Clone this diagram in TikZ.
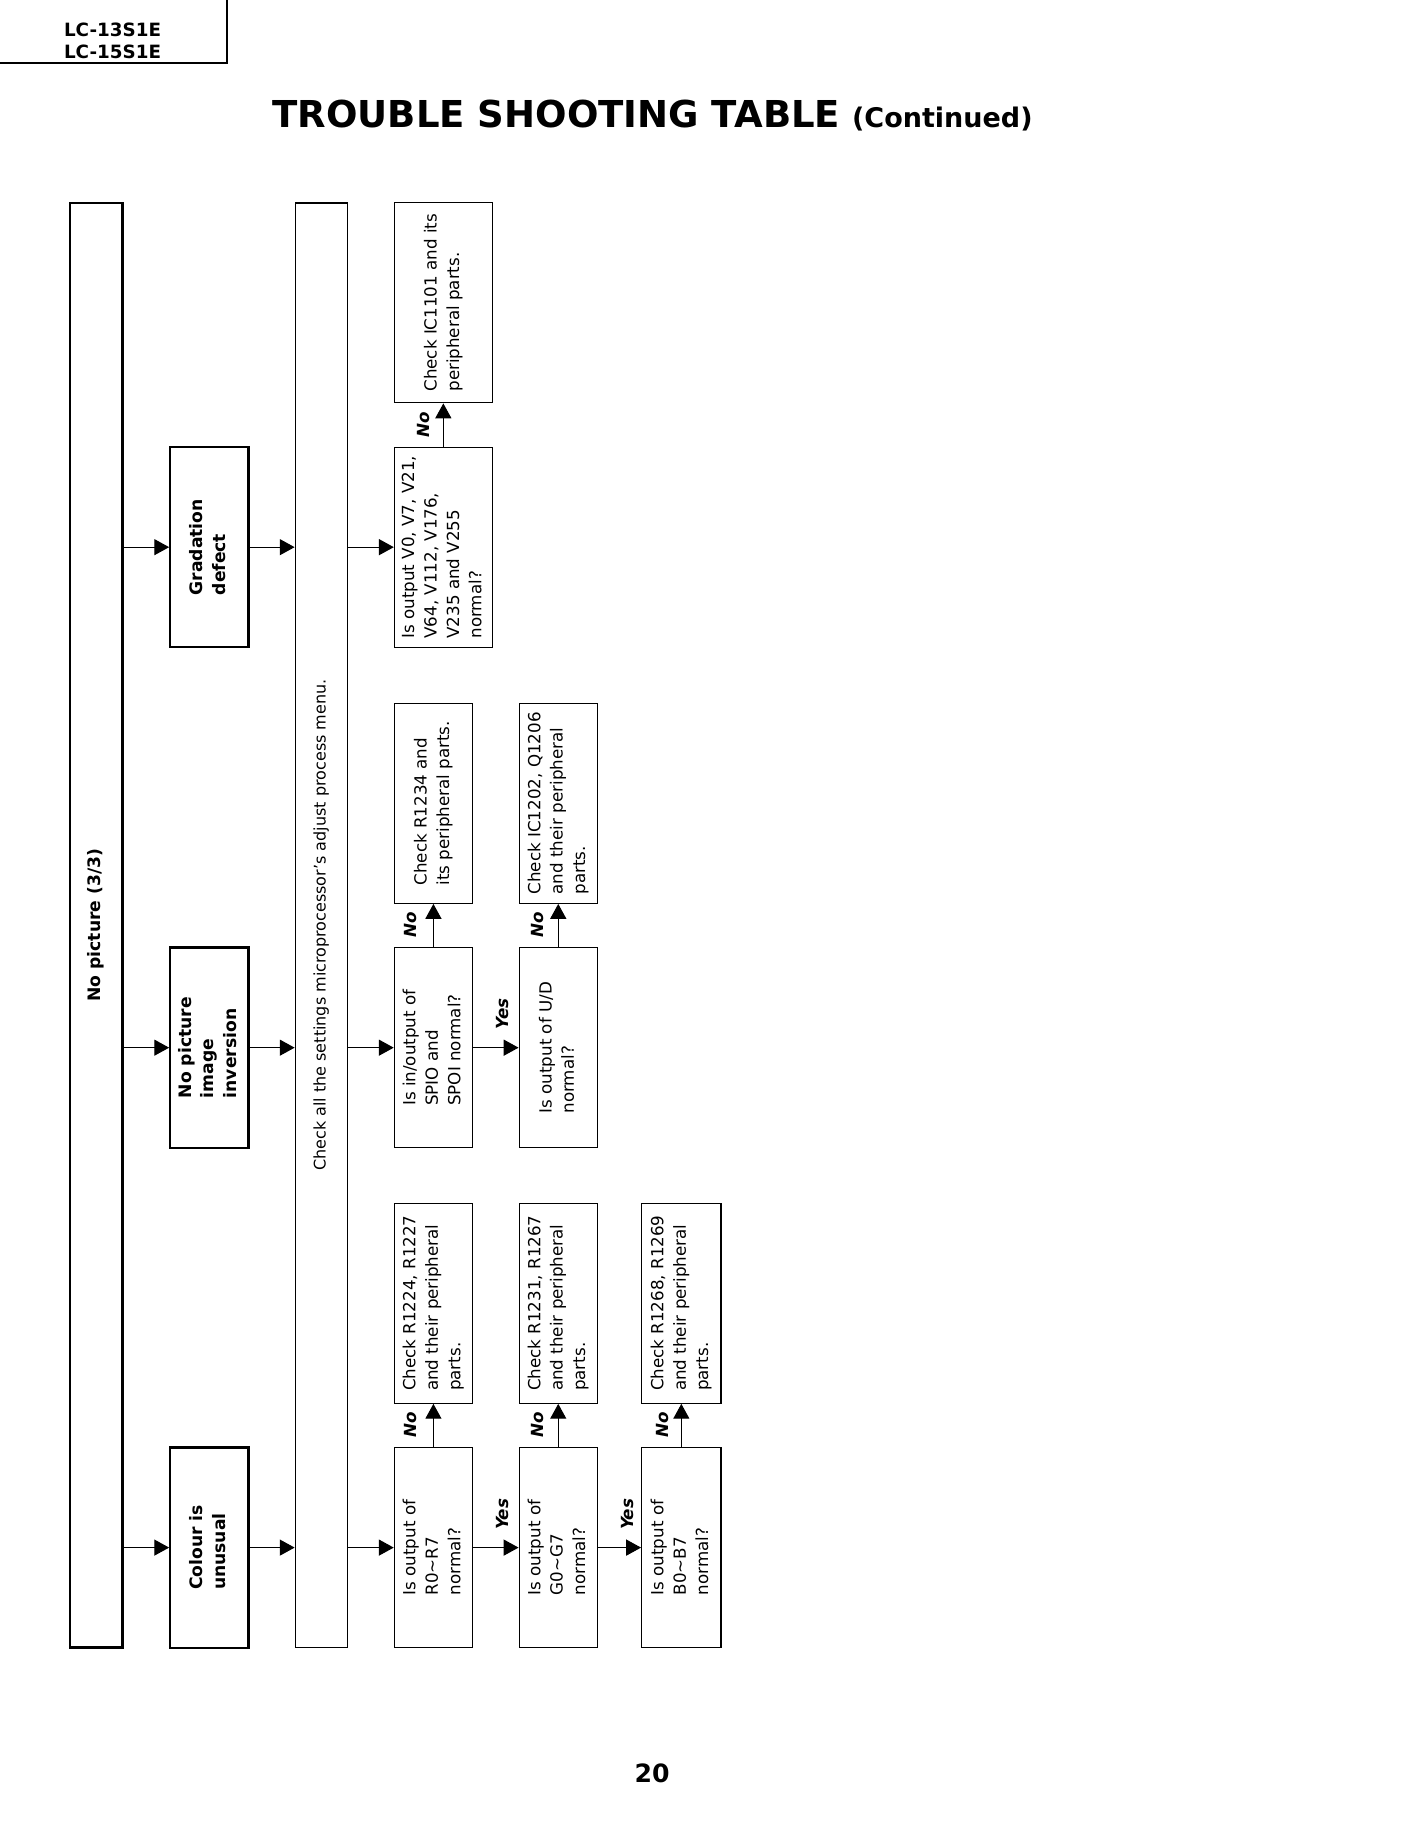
\documentclass[tikz,border=0pt]{standalone}
\usepackage{fontspec}
\setmainfont{DejaVu Sans}
\usepackage{graphicx}
\newcommand{\VText}[1]{\rotatebox{90}{\begin{tabular}{@{}l@{}}#1\end{tabular}}}
\usetikzlibrary{arrows.meta,calc}
\tikzset{>={Triangle[length=6.5pt,width=7pt]}}
\tikzset{
  thinbox/.style={draw,line width=.5pt,inner sep=0pt,minimum width=#1,minimum height=87.5pt,
    font=\fontsize{7.3}{9.8}\selectfont},
  thinbox/.default=34.2pt,
  keybox/.style={draw,line width=1pt,inner sep=0pt,minimum width=34.2pt,minimum height=87.5pt,
    font=\fontsize{7.5}{10}\selectfont\bfseries},
  tallbox/.style={draw,inner sep=0pt,minimum height=631.4pt},
  yn/.style={rotate=90,inner sep=0pt,font=\fontsize{7.3}{9}\selectfont\bfseries\itshape}
}

\begin{document}
\begin{tikzpicture}[x=0.51pt,y=-0.51pt,line width=.5pt]
    \useasboundingbox (0,0) rectangle (1200,1565.14);

    \draw[line width=.9pt] (0,54) -- (194.5,54) -- (194.5,0);
    \node[inner sep=0pt,align=center,font=\fontsize{8}{9.2}\selectfont\bfseries] (model) at (96.5,35) {LC-13S1E\\LC-15S1E};
    \node[anchor=base west,inner sep=0pt] (title) at (233,109) {{\fontsize{16.2}{19}\selectfont\bfseries TROUBLE SHOOTING TABLE}\hspace{2pt} {\fontsize{11.8}{14}\selectfont\bfseries (Continued)}};

    \node[tallbox,line width=1pt,minimum width=22.95pt,font=\fontsize{7.5}{10}\selectfont\bfseries] (NP) at (82.5,793) {\VText{No picture (3/3)}};
    \node[tallbox,minimum width=22.7pt,font=\fontsize{7}{9.8}\selectfont] (ADJ) at (275.3,793) {\VText{Check all the settings microprocessor’s adjust process menu.}};

    \node[keybox] (GD) at (179.5,469) {\VText{Gradation\\defect}};
    \node[keybox] (IV) at (179.5,898) {\VText{No picture\\image\\inversion}};
    \node[keybox] (CU) at (179.5,1326.5) {\VText{Colour is\\unusual}};

    \node[thinbox=42.8pt] (V) at (380,469) {\VText{Is output V0, V7, V21,\\V64, V112, V176,\\V235 and V255\\normal?}};
    \node[thinbox=42.8pt] (IC) at (380,259.5) {\VText{Check IC1101 and its\\peripheral parts.}};

    \node[thinbox] (SP) at (371.5,898) {\VText{Is in/output of\\SPIO and\\SPOI normal?}};
    \node[thinbox] (RA) at (371.5,688.5) {\VText{Check R1234 and\\its peripheral parts.}};
    \node[thinbox] (UD) at (478.5,898) {\VText{Is output of U/D\\normal?}};
    \node[thinbox] (ICB) at (478.5,688.5) {\VText{Check IC1202, Q1206\\and their peripheral\\parts.}};

    \node[thinbox] (RR) at (371.5,1326.5) {\VText{Is output of\\R0\textasciitilde R7\\normal?}};
    \node[thinbox] (RC) at (371.5,1117) {\VText{Check R1224, R1227\\and their peripheral\\parts.}};
    \node[thinbox] (GG) at (478.5,1326.5) {\VText{Is output of\\G0\textasciitilde G7\\normal?}};
    \node[thinbox] (GC) at (478.5,1117) {\VText{Check R1231, R1267\\and their peripheral\\parts.}};
    \node[thinbox=34.7pt] (BB) at (584,1326.5) {\VText{Is output of\\B0\textasciitilde B7\\normal?}};
    \node[thinbox=34.7pt] (BC) at (584,1117) {\VText{Check R1268, R1269\\and their peripheral\\parts.}};

    \draw[->] (NP.east |- GD.west) -- (GD.west);
    \draw[->] (NP.east |- IV.west) -- (IV.west);
    \draw[->] (NP.east |- CU.west) -- (CU.west);
    \draw[->] (GD.east) -- (ADJ.west |- GD.east);
    \draw[->] (IV.east) -- (ADJ.west |- IV.east);
    \draw[->] (CU.east) -- (ADJ.west |- CU.east);
    \draw[->] (ADJ.east |- V.west) -- (V.west);
    \draw[->] (ADJ.east |- SP.west) -- (SP.west);
    \draw[->] (ADJ.east |- RR.west) -- (RR.west);

    \draw[->] (V.north) -- (IC.south);
    \draw[->] (SP.north) -- (RA.south);
    \draw[->] (UD.north) -- (ICB.south);
    \draw[->] (RR.north) -- (RC.south);
    \draw[->] (GG.north) -- (GC.south);
    \draw[->] (BB.north) -- (BC.south);
    \draw[->] (SP.east) -- (UD.west);
    \draw[->] (RR.east) -- (GG.west);
    \draw[->] (GG.east) -- (BB.west);

    \node[yn] (no1) at (363,364) {No};
    \node[yn] (no2) at (352,793) {No};
    \node[yn] (no3) at (461,793) {No};
    \node[yn] (no4) at (352,1221) {No};
    \node[yn] (no5) at (461,1221) {No};
    \node[yn] (no6) at (568,1221) {No};
    \node[yn] (yes1) at (431,869) {Yes};
    \node[yn] (yes2) at (431,1298) {Yes};
    \node[yn] (yes3) at (538,1298) {Yes};

    \node[anchor=base,inner sep=0pt,font=\fontsize{11}{13}\selectfont\bfseries] (page) at (559,1528) {20};
\end{tikzpicture}
\end{document}
